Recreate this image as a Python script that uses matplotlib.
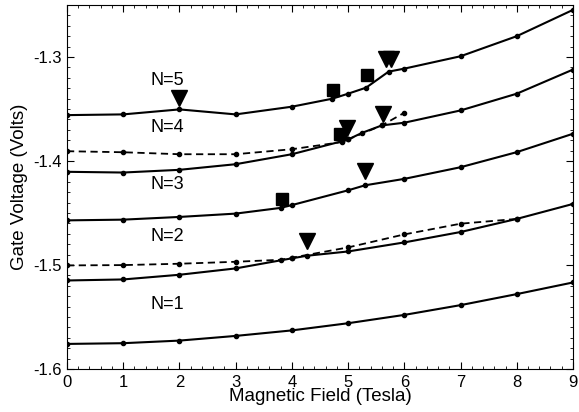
import matplotlib
matplotlib.use("Agg")
import matplotlib.pyplot as plt
from matplotlib.ticker import MultipleLocator

plt.rcParams['font.family'] = ['Liberation Sans', 'DejaVu Sans']

# solid curves (bottom to top)
x_n1 = [0, 1, 2, 3, 4, 5, 6, 7, 8, 9]
y_n1 = [-1.5759, -1.5752, -1.5727, -1.5682, -1.5629, -1.5560, -1.5480, -1.5386, -1.5280, -1.5168]

x_n2 = [0, 1, 2, 3, 4, 4.27, 5, 6, 7, 8, 9]
y_n2 = [-1.5149, -1.5139, -1.5094, -1.5033, -1.4936, -1.4911, -1.4870, -1.4783, -1.4683, -1.4557, -1.4413]

x_n3 = [0, 1, 2, 3, 3.8, 4, 5, 5.3, 6, 7, 8, 9]
y_n3 = [-1.4571, -1.4564, -1.4538, -1.4506, -1.4451, -1.4424, -1.4282, -1.4234, -1.4172, -1.4060, -1.3915, -1.3738]

x_n4 = [0, 1, 2, 3, 4, 4.9, 5, 5.25, 5.6, 6, 7, 8, 9]
y_n4 = [-1.4104, -1.4111, -1.4085, -1.4031, -1.3935, -1.3809, -1.3793, -1.3729, -1.3658, -1.3632, -1.3514, -1.3353, -1.3121]

x_n5 = [0, 1, 2, 3, 4, 4.72, 5, 5.32, 5.72, 6, 7, 8, 9]
y_n5 = [-1.3559, -1.3552, -1.3504, -1.3552, -1.3478, -1.3401, -1.3353, -1.3295, -1.3141, -1.3112, -1.2993, -1.2800, -1.2547]

# dashed curves
x_d1 = [0, 1, 2, 3, 3.8, 4, 5, 6, 7, 8]
y_d1 = [-1.5004, -1.5001, -1.4988, -1.4969, -1.4950, -1.4930, -1.4831, -1.4706, -1.4603, -1.4557]

x_d2 = [0, 1, 2, 3, 4, 4.9, 5, 5.6, 6]
y_d2 = [-1.3906, -1.3916, -1.3935, -1.3935, -1.3887, -1.3817, -1.3793, -1.3658, -1.3536]

# markers
tri_x = [2, 5.68, 5.76, 4.98, 5.62, 5.30, 4.27]
tri_y = [-1.3398, -1.3022, -1.3022, -1.3687, -1.3545, -1.4099, -1.4773]
sq_x = [4.74, 5.33, 4.86, 3.82]
sq_y = [-1.3318, -1.3176, -1.3738, -1.4362]

labels = ["N=5", "N=4", "N=3", "N=2", "N=1"]
label_y = [-1.3230, -1.3680, -1.4227, -1.4725, -1.5383]

fig = plt.figure(figsize=(5.79, 4.12), dpi=100)
ax = fig.add_axes([0.1157, 0.1044, 0.8739, 0.8835])

for xs, ys in [(x_n1, y_n1), (x_n2, y_n2), (x_n3, y_n3), (x_n4, y_n4), (x_n5, y_n5)]:
    ax.plot(xs, ys, color="black", lw=1.5, marker="o", ms=3)
for xs, ys in [(x_d1, y_d1), (x_d2, y_d2)]:
    ax.plot(xs, ys, color="black", lw=1.3, ls=(0, (4, 2.5)), marker="o", ms=3)

ax.plot(tri_x, tri_y, ls="none", marker="v", ms=11, color="black")
ax.plot(sq_x, sq_y, ls="none", marker="s", ms=8, color="black")

for t, yv in zip(labels, label_y):
    ax.text(1.79, yv, t, ha="center", va="center", fontsize=13)

ax.set_xlim(0, 9)
ax.set_ylim(-1.6, -1.25)
ax.xaxis.set_major_locator(MultipleLocator(1))
ax.xaxis.set_minor_locator(MultipleLocator(0.2))
ax.yaxis.set_minor_locator(MultipleLocator(0.01))
ax.set_yticks([-1.6, -1.5, -1.4, -1.3])
ax.set_yticklabels(["-1.6", "-1.5", "-1.4", "-1.3"])
ax.tick_params(which="both", direction="in", top=True, right=True, labelsize=12)
ax.tick_params(which="major", length=5)
ax.tick_params(which="minor", length=2.5)
ax.tick_params(axis="x", pad=4)
for s in ax.spines.values():
    s.set_linewidth(0.8)

ax.set_xlabel("Magnetic Field (Tesla)", fontsize=13.5, labelpad=-1)
ax.set_ylabel("Gate Voltage (Volts)", fontsize=13.5, labelpad=4)

fig.savefig("out.png", dpi=100)
